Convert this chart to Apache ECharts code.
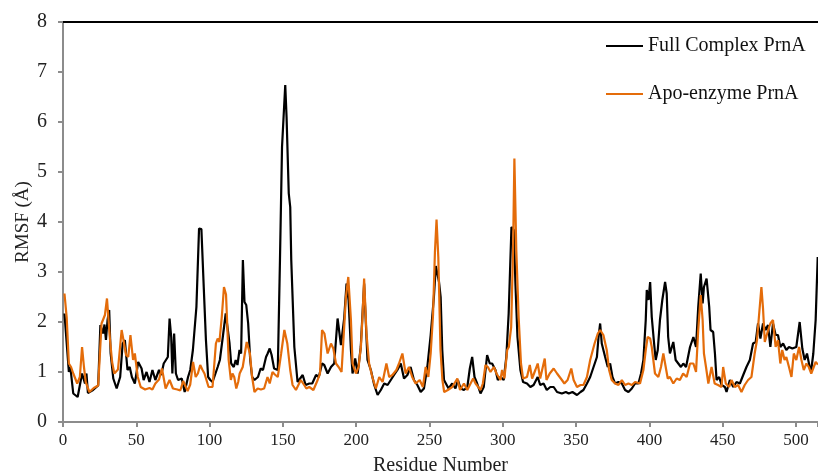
<!DOCTYPE html>
<html>
<head>
<meta charset="utf-8">
<script src="https://cdn.jsdelivr.net/npm/echarts@6/dist/echarts.min.js"></script>
<style>
  html, body { margin: 0; padding: 0; background: #fff; }
  #chart { width: 818px; height: 475px; }
</style>
</head>
<body>
<div id="chart"></div>
<script>
// residue numbers and RMSF values
const fullRes = [1, 4, 5, 7, 10, 13, 15, 16, 17, 20.5, 24, 25.5, 27.4, 28.3, 29.3, 30.4, 31.5, 32.5, 34.3, 36.6,
  39, 40.7, 42.2, 44, 45.5, 47, 49, 51.3, 53.6, 55, 57, 59, 61, 63, 65.5, 67, 68.7, 70, 71.5, 72.7,
  73.8, 74.6, 75.8, 77, 78.5, 81, 83, 85.3, 86.8, 88.6, 91, 92.8, 94.4, 96, 97.5, 99, 100.5, 102, 104, 105.5,
  107, 109, 111, 112.3, 113.6, 114.7, 116.5, 117.8, 119, 120.4, 121.5, 122.7, 123.8, 125, 126.3, 127.7, 129, 130.6, 133, 134.8,
  136.4, 138.5, 139.6, 141, 142.3, 144, 146.5, 148, 149.4, 151.6, 152.5, 154, 155, 155.7, 157.8, 160, 163.5, 165.5, 168, 170,
  172.6, 174.5, 176.7, 178.2, 180.5, 182.8, 185, 187.3, 189.6, 190.7, 191.8, 193.4, 194.8, 196.4, 197.5, 199.3, 201, 203.1, 205.4, 207.7,
  210, 212.3, 214.6, 216.8, 219.1, 221.4, 223.6, 225.8, 228.1, 230.4, 232.6, 234.9, 237.1, 239.4, 241.7, 244, 246.2, 248.5, 250.8, 253,
  254.3, 255.5, 256.5, 257.6, 258.7, 259.9, 261, 263, 265.5, 267.7, 269.4, 271.2, 273.5, 275.8, 277.5, 279.1, 280.7, 282.5, 284.8, 287,
  289.3, 291.1, 292.7, 295, 296.6, 298.4, 300.6, 302.4, 304, 305.9, 307.5, 308.6, 310, 312, 313.8, 316.5, 318.8, 321, 323.8, 325.5,
  327.8, 330, 332.4, 334.7, 337, 340.3, 343, 345, 347.5, 350.6, 353, 355, 357.4, 359.6, 361.9, 364.2, 365.3, 366.4, 367.5, 369.8,
  371.6, 373.2, 374.8, 376.6, 378.9, 381.2, 383.4, 385.7, 388, 390.2, 392.5, 394.3, 395.9, 397.5, 398.2, 399.4, 400.5, 401.6, 403.2, 404.3,
  405.7, 407.2, 408.8, 410.7, 411.8, 412.8, 414, 415.2, 416.3, 417.9, 419.7, 421.5, 423.1, 425, 427.7, 430, 431.8, 433.3, 435, 436.3,
  437.2, 439, 440.8, 441.7, 443.5, 444.7, 445.8, 447.6, 449.2, 451.5, 452.6, 454.9, 457.2, 459.4, 461.7, 464, 466.2, 468.5, 470.7, 472.5,
  474.1, 475.7, 477.5, 479.3, 480.9, 482.5, 484.3, 486.1, 487.7, 489.3, 491.2, 493.4, 495.2, 497.5, 500.2, 502.5, 504.3, 505.9, 507.5, 509.3,
  510.4, 511.8, 513.4, 514.8];
const fullRmsf = [2.17, 1.0, 1.1, 0.57, 0.5, 0.97, 0.77, 0.97, 0.58, 0.64, 0.73, 1.94, 1.77, 1.95, 1.64, 2.04, 2.24, 1.37, 0.87, 0.67,
  0.9, 1.57, 1.64, 1.04, 1.1, 0.9, 0.77, 1.2, 1.07, 0.84, 1.0, 0.8, 1.04, 0.84, 1.04, 0.94, 1.17, 1.14, 1.3, 2.07,
  1.7, 0.97, 1.77, 0.97, 0.84, 0.87, 0.6, 0.9, 1.04, 1.44, 2.3, 3.87, 3.86, 2.7, 1.64, 0.9, 0.84, 0.8, 0.97, 1.1,
  1.24, 1.7, 2.17, 2.2, 1.57, 1.17, 1.1, 1.24, 1.14, 1.44, 1.37, 3.24, 2.4, 2.34, 1.97, 1.24, 0.9, 0.84, 0.9, 1.07,
  1.04, 1.3, 1.37, 1.47, 1.34, 1.07, 1.04, 3.24, 5.5, 6.74, 6.1, 4.57, 4.3, 3.24, 1.5, 0.8, 0.94, 0.74, 0.77, 0.77,
  0.94, 0.9, 1.17, 1.14, 0.97, 1.1, 1.17, 2.07, 1.54, 1.57, 2.07, 2.77, 2.44, 1.44, 0.97, 1.27, 0.97, 1.5, 2.77, 1.24,
  1.04, 0.74, 0.54, 0.64, 0.77, 0.74, 0.84, 0.94, 1.04, 1.17, 0.87, 0.94, 1.1, 0.84, 0.74, 0.6, 0.67, 1.1, 1.74, 2.5,
  3.12, 3.14, 2.8, 2.5, 1.44, 0.84, 0.81, 0.67, 0.77, 0.67, 0.84, 0.67, 0.64, 0.7, 1.07, 1.3, 0.9, 0.77, 0.57, 0.7,
  1.34, 1.17, 1.17, 1.04, 0.84, 0.9, 0.84, 1.3, 2.17, 3.9, 3.84, 2.77, 1.7, 1.04, 0.8, 0.77, 0.7, 0.74, 0.9, 0.74,
  0.77, 0.64, 0.7, 0.7, 0.6, 0.57, 0.6, 0.57, 0.6, 0.54, 0.6, 0.64, 0.77, 0.9, 1.1, 1.3, 1.7, 1.97, 1.57, 1.3,
  1.1, 1.17, 0.9, 0.77, 0.8, 0.77, 0.64, 0.6, 0.67, 0.77, 0.77, 0.97, 1.24, 2.04, 2.64, 2.44, 2.8, 2.1, 1.57, 1.24,
  1.44, 2.04, 2.44, 2.8, 2.57, 1.7, 1.37, 1.34, 1.6, 1.24, 1.17, 1.1, 1.17, 1.1, 1.5, 1.7, 1.5, 2.3, 2.97, 2.37,
  2.7, 2.87, 2.3, 1.84, 1.8, 1.37, 0.84, 0.9, 0.74, 0.7, 0.6, 0.84, 0.7, 0.8, 0.77, 0.94, 1.1, 1.24, 1.57, 1.6,
  1.97, 1.67, 1.97, 1.84, 1.94, 1.5, 1.97, 1.74, 1.74, 1.5, 1.57, 1.44, 1.5, 1.47, 1.5, 2.0, 1.47, 1.24, 1.37, 1.1,
  1.04, 1.37, 2.04, 3.3];

const apoRes = [1, 2.5, 4, 5.5, 7, 9.7, 11.5, 13, 14.3, 15.5, 18, 21, 24, 26.3, 28.6, 30, 32, 33.5, 35, 37.5,
  40, 41.5, 43, 44.5, 46, 47.8, 49, 51, 53, 56, 59, 61, 63, 65.5, 67.5, 70, 72.7, 75, 78, 80,
  82, 85, 86.8, 88.7, 90.5, 92, 93.6, 95, 96.5, 99.3, 102, 104.3, 105.5, 106.7, 108.3, 109.8, 111.2, 113, 114.5, 115.6,
  116.8, 118.2, 119.5, 120.5, 122.6, 125.3, 127.5, 129, 130.6, 132.8, 135, 137.2, 139.5, 141, 142.9, 144.5, 146.5, 148.8, 151, 153,
  155, 156.6, 158.9, 162.2, 164.5, 166, 168, 170.8, 173.7, 175.3, 176.7, 178.3, 180.5, 182.8, 184.4, 186.2, 188, 190, 191.8, 193,
  194.6, 196.4, 197.5, 199.8, 201.6, 203.2, 204.3, 205.4, 207, 208.8, 211, 213.4, 215.7, 218, 220.6, 222.5, 224.7, 227.4, 229.2, 231.5,
  233.7, 236, 238.2, 240.5, 243.3, 245.5, 247.4, 249.2, 250.8, 252.4, 253.7, 254.8, 256, 257.5, 258.8, 260, 262.5, 265.5, 269, 270.8,
  273.5, 275.8, 278, 279.8, 281.4, 284.8, 286.4, 288.2, 289.8, 291.6, 293.9, 295.7, 298.4, 299.5, 301.1, 303, 304.1, 305.7, 307, 307.9,
  309.2, 310.8, 312.4, 313.8, 316.5, 318.4, 320, 322.2, 323.8, 325.5, 328.6, 329.8, 332, 334.7, 337, 340.3, 342, 344.2, 346.7, 348.3,
  350.6, 353, 355, 357.4, 359.6, 360.8, 362.6, 364.8, 366.4, 368.6, 370.9, 372.5, 374.3, 376.6, 378.9, 381.2, 383.4, 385.7, 388, 390.2,
  393.6, 395.9, 397.5, 398.8, 400.5, 401.6, 403.8, 406.1, 407.9, 409.5, 410.7, 412.5, 414, 416.3, 418.6, 420.8, 423, 425.4, 427.7, 430,
  431.8, 433.3, 435, 436.3, 437.2, 438.6, 440.2, 442.4, 444.5, 446.8, 449.2, 450.3, 452.1, 454.4, 456, 458.3, 460.5, 462.8, 465, 467.3,
  469.6, 471.8, 473.4, 474.8, 476.4, 477.5, 478.7, 481, 482.5, 484.3, 486.1, 487.7, 489.3, 490.6, 492.2, 493.4, 495.2, 496.9, 498.5, 500.2,
  502.1, 503.7, 505.3, 507.1, 508.7, 510.4, 513.4, 515];
const apoRmsf = [2.57, 2.1, 1.17, 1.1, 0.97, 0.77, 0.9, 1.5, 1.1, 0.8, 0.6, 0.68, 0.73, 1.97, 2.14, 2.47, 1.67, 1.2, 0.97, 1.05,
  1.84, 1.6, 1.34, 1.3, 1.74, 1.24, 1.37, 0.9, 0.7, 0.65, 0.68, 0.65, 0.77, 0.85, 1.07, 0.67, 0.84, 0.67, 0.65, 0.63,
  0.82, 0.62, 0.75, 1.2, 0.9, 0.97, 1.14, 1.05, 0.97, 0.7, 0.7, 1.57, 1.67, 1.6, 2.1, 2.7, 2.55, 1.24, 0.84, 0.97,
  0.9, 0.67, 0.8, 0.97, 1.1, 1.6, 1.37, 0.9, 0.6, 0.67, 0.65, 0.67, 0.9, 0.77, 1.0, 0.95, 0.9, 1.37, 1.84, 1.57,
  1.04, 0.74, 0.64, 0.84, 0.74, 0.67, 0.7, 0.64, 0.84, 0.97, 1.84, 1.77, 1.37, 1.57, 1.47, 1.17, 1.1, 1.0, 1.9, 2.5,
  2.9, 2.04, 1.17, 0.97, 1.1, 1.5, 2.1, 2.87, 1.77, 1.17, 0.9, 0.67, 0.9, 0.8, 1.17, 0.9, 0.94, 1.04, 1.17, 1.37,
  0.97, 1.1, 0.9, 0.77, 0.84, 0.7, 1.1, 0.9, 1.37, 2.14, 3.4, 4.05, 3.3, 1.44, 0.84, 0.6, 0.64, 0.7, 0.87, 0.64,
  0.77, 0.64, 0.77, 0.87, 0.77, 0.64, 0.77, 1.14, 1.1, 1.0, 1.1, 0.97, 0.84, 1.04, 0.87, 1.44, 1.5, 1.9, 3.44, 5.27,
  3.44, 2.1, 1.17, 0.87, 0.9, 1.14, 0.87, 1.04, 1.17, 0.87, 1.27, 0.84, 0.97, 1.07, 0.97, 0.84, 0.77, 0.84, 1.07, 0.84,
  0.7, 0.74, 0.74, 0.9, 1.24, 1.24, 1.57, 1.77, 1.84, 1.74, 1.44, 1.04, 0.84, 0.77, 0.74, 0.84, 0.74, 0.77, 0.74, 0.8,
  0.77, 1.04, 1.44, 1.7, 1.67, 1.5, 0.97, 0.9, 1.1, 1.37, 1.17, 0.87, 0.9, 0.77, 0.87, 0.84, 0.97, 0.9, 1.17, 1.17,
  1.0, 1.84, 2.54, 2.04, 1.37, 1.1, 0.77, 1.1, 0.77, 0.74, 0.7, 1.1, 0.77, 0.7, 0.84, 0.7, 0.74, 0.6, 0.74, 0.84,
  0.9, 1.37, 1.64, 2.14, 2.7, 2.27, 1.6, 1.84, 1.97, 2.04, 1.5, 1.64, 1.17, 1.44, 1.24, 1.3, 1.1, 0.9, 1.37, 1.24,
  1.5, 1.24, 1.04, 1.17, 1.1, 0.97, 1.2, 1.15];

const xTicks = [0, 50, 100, 150, 200, 250, 300, 350, 400, 450, 500];

const chart = echarts.init(document.getElementById('chart'));
const font = 'Liberation Serif';

let option = {
    animation: false,
    backgroundColor: '#fff',
    textStyle: { fontFamily: font },
    grid: { left: 63, right: 0, top: 22, bottom: 53, outerBoundsMode: 'none' },
    legend: {
        orient: 'vertical',
        left: 606,
        top: 36,
        padding: 0,
        itemWidth: 37,
        itemHeight: 2,
        itemGap: 28,
        icon: 'rect',
        textStyle: { fontFamily: font, fontSize: 20, color: '#111', lineHeight: 20 },
        data: ['Full Complex PrnA', 'Apo-enzyme PrnA']
    },
    xAxis: [{
        type: 'value',
        min: 0,
        max: 515,
        interval: 50,
        name: 'Residue Number',
        nameLocation: 'middle',
        nameGap: 34,
        nameMoveOverlap: false,
        nameTextStyle: { fontFamily: font, fontSize: 20, color: '#222' },
        axisLine: { lineStyle: { color: '#8c8c8c', width: 2 } },
        axisTick: { show: true, length: 5, lineStyle: { color: '#8c8c8c', width: 2 } },
        axisLabel: {
            margin: 10,
            fontFamily: font,
            fontSize: 17,
            color: '#222',
            formatter: (v) => xTicks.includes(v) ? String(v) : ''
        },
        splitLine: { show: false }
    }, {
        type: 'value',
        position: 'top',
        min: 0,
        max: 515,
        axisLine: { show: true, onZero: false, lineStyle: { color: '#000', width: 2 } },
        axisTick: { show: false },
        axisLabel: { show: false },
        splitLine: { show: false }
    }],
    yAxis: {
        type: 'value',
        min: 0,
        max: 8,
        interval: 1,
        name: 'RMSF (Å)',
        nameLocation: 'middle',
        nameGap: 30,
        nameMoveOverlap: false,
        nameTextStyle: { fontFamily: font, fontSize: 19, color: '#222' },
        axisLine: { show: true, lineStyle: { color: '#8c8c8c', width: 2 } },
        axisTick: { show: true, length: 5, lineStyle: { color: '#8c8c8c', width: 2 } },
        axisLabel: { margin: 16, fontFamily: font, fontSize: 20, color: '#222' },
        splitLine: { show: false }
    },
    series: [{
        name: 'Full Complex PrnA',
        type: 'line',
        xAxisIndex: 0,
        showSymbol: false,
        color: '#000',
        lineStyle: { width: 2.2, color: '#000' },
        data: fullRes.map((r, i) => [r, fullRmsf[i]])
    }, {
        name: 'Apo-enzyme PrnA',
        type: 'line',
        xAxisIndex: 0,
        showSymbol: false,
        color: '#E46C0A',
        lineStyle: { width: 2.2, color: '#E46C0A' },
        data: apoRes.map((r, i) => [r, apoRmsf[i]])
    }]
};

chart.setOption(option);
</script>
</body>
</html>
